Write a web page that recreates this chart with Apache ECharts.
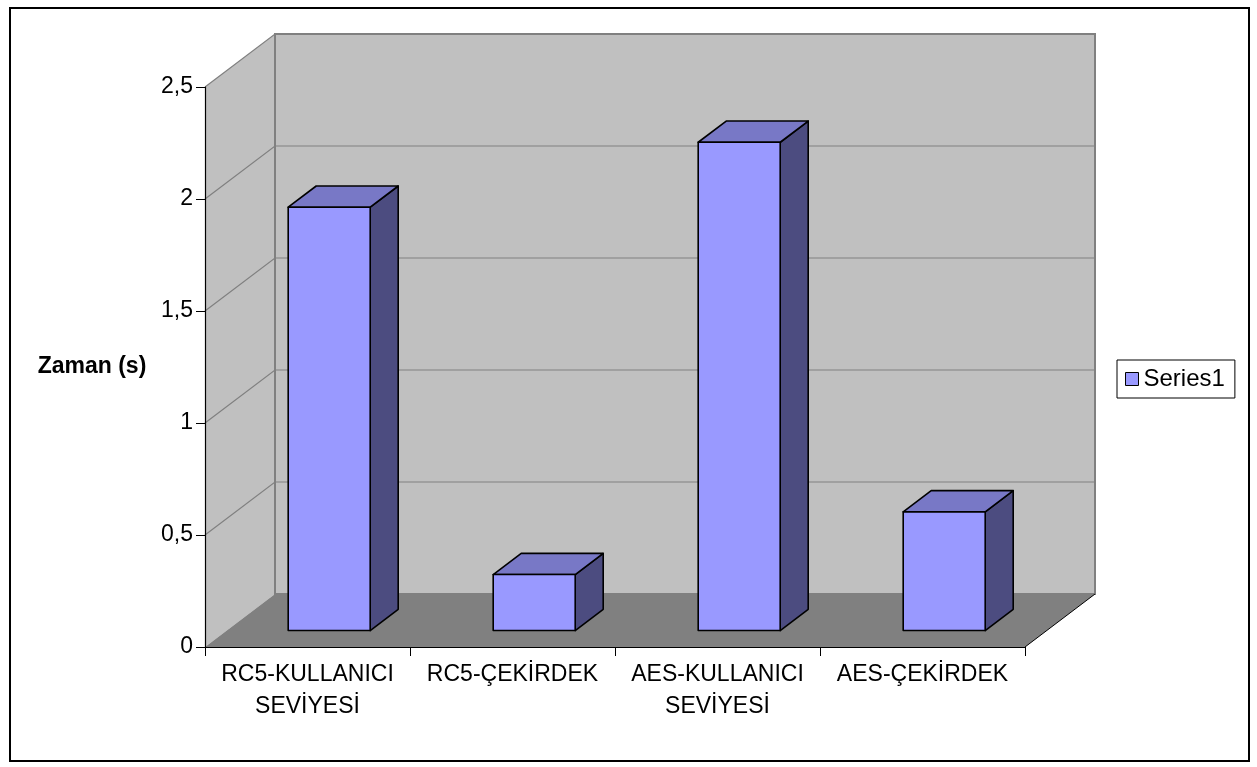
<!DOCTYPE html>
<html>
<head>
<meta charset="utf-8">
<script src="https://cdn.jsdelivr.net/npm/echarts@6/dist/echarts.min.js"></script>
<style>
  html, body { margin: 0; padding: 0; background: #fff; }
  #chart { width: 1257px; height: 767px; }
</style>
</head>
<body>
<div id="chart"></div>
<script>
// Processing time per method
const categories = ['RC5-KULLANICI\nSEVİYESİ', 'RC5-ÇEKİRDEK', 'AES-KULLANICI\nSEVİYESİ', 'AES-ÇEKİRDEK'];
const barValues = [1.89, 0.25, 2.18, 0.53];
const yTicks = [0, 0.5, 1, 1.5, 2, 2.5];
const seriesName = 'Series1';
const yTitle = 'Zaman (s)';

// 3D depth offset of the back wall relative to the front plane
const DX = 70, DY = -53;
const FONT = "'Liberation Sans', Arial, sans-serif";

const chart = echarts.init(document.getElementById('chart'), null, { renderer: 'canvas' });

function wallsItem(params, api) {
  const cs = params.coordSys;
  const x0 = cs.x, x1 = cs.x + cs.width;
  const yTop = api.coord([0, yTicks[yTicks.length - 1]])[1];
  const yBot = api.coord([0, yTicks[0]])[1];
  const children = [];
  // side wall
  children.push({ type: 'polygon', shape: { points: [[x0, yTop], [x0 + DX, yTop + DY], [x0 + DX, yBot + DY], [x0, yBot]] },
    style: { fill: '#C0C0C0', stroke: null } });
  // back wall
  children.push({ type: 'rect', shape: { x: x0 + DX, y: yTop + DY, width: x1 - x0, height: yBot - yTop },
    style: { fill: '#C0C0C0', stroke: '#808080', lineWidth: 2 } });
  // floor
  children.push({ type: 'polygon', shape: { points: [[x0, yBot], [x0 + DX, yBot + DY], [x1 + DX, yBot + DY], [x1, yBot]] },
    style: { fill: '#808080', stroke: null } });
  children.push({ type: 'line', shape: { x1: x1, y1: yBot, x2: x1 + DX, y2: yBot + DY },
    style: { stroke: '#000', lineWidth: 1 } });
  // gridlines on side and back walls
  yTicks.forEach(function (v, k) {
    const y = api.coord([0, v])[1];
    if (k > 0) {
      children.push({ type: 'polyline', shape: { points: [[x0, y], [x0 + DX, y + DY], [x1 + DX, y + DY]] },
        style: { stroke: '#808080', lineWidth: 1.2, fill: null } });
    }
  });
  return { type: 'group', children: children };
}

function barItem(params, api) {
  const idx = api.value(0);
  const val = api.value(1);
  const base = api.coord([idx, 0]);
  const top = api.coord([idx, val]);
  const band = api.size([1, 0])[0];
  const half = band / 2.5 / 2;
  const f1 = 0.31, f2 = 0.71;
  const dx = DX * (f2 - f1), dy = DY * (f2 - f1);
  const xl = base[0] - half + DX * f1, xr = base[0] + half + DX * f1;
  const yb = base[1] + DY * f1, yt = top[1] + DY * f1;
  const st = { stroke: '#000', lineWidth: 1.6, lineJoin: 'round' };
  return {
    type: 'group',
    children: [
      { type: 'polygon', shape: { points: [[xr, yt], [xr + dx, yt + dy], [xr + dx, yb + dy], [xr, yb]] },
        style: Object.assign({ fill: '#4C4C80' }, st) },
      { type: 'polygon', shape: { points: [[xl, yt], [xr, yt], [xr + dx, yt + dy], [xl + dx, yt + dy]] },
        style: Object.assign({ fill: '#7878C6' }, st) },
      { type: 'rect', shape: { x: xl, y: yt, width: xr - xl, height: yb - yt },
        style: Object.assign({ fill: '#9999FF' }, st) }
    ]
  };
}

const option = {
  animation: false,
  textStyle: { fontFamily: FONT },
  graphic: [{
    type: 'rect', left: 9, top: 7, z: -10,
    shape: { width: 1239, height: 753 },
    style: { fill: '#fff', stroke: '#000', lineWidth: 2 }
  }],
  grid: { left: 205, top: 87, width: 820, height: 560, containLabel: false },
  legend: {
    data: [seriesName],
    left: 1117, top: 360,
    orient: 'vertical',
    padding: [7, 10, 7, 8],
    borderColor: '#000', borderWidth: 1,
    backgroundColor: '#fff',
    icon: 'rect', itemWidth: 13, itemHeight: 13,
    itemStyle: { borderColor: '#000', borderWidth: 1 },
    textStyle: { fontFamily: FONT, fontSize: 24, color: '#000' }
  },
  xAxis: {
    type: 'category', data: categories, z: 10,
    axisLine: { lineStyle: { color: '#000', width: 1.2 } },
    axisTick: { show: true, alignWithLabel: false, interval: 0, length: 9, lineStyle: { color: '#000' } },
    axisLabel: { interval: 0, margin: 12, fontFamily: FONT, fontSize: 23, lineHeight: 32, color: '#000' },
    splitLine: { show: false }
  },
  yAxis: {
    type: 'value', min: 0, max: 2.5, interval: 0.5, z: 10,
    name: yTitle, nameLocation: 'middle', nameRotate: 0, nameGap: 113,
    nameTextStyle: { fontFamily: FONT, fontSize: 23, fontWeight: 'bold', color: '#000', align: 'center', verticalAlign: 'middle' },
    axisLine: { show: true, lineStyle: { color: '#000', width: 1.2 } },
    axisTick: { show: true, length: 9, lineStyle: { color: '#000' } },
    axisLabel: { margin: 12, fontFamily: FONT, fontSize: 23, color: '#000',
      formatter: function (v) { return String(v).replace('.', ','); } },
    splitLine: { show: false }
  },
  series: [
    { type: 'custom', name: 'walls', z: 1, silent: true, renderItem: wallsItem, data: [[0, 0]] },
    { type: 'custom', name: seriesName, z: 3, renderItem: barItem,
      itemStyle: { color: '#9999FF' },
      encode: { x: 0, y: 1 },
      data: barValues.map(function (v, i) { return [i, v]; }) }
  ]
};
chart.setOption(option);
</script>
</body>
</html>
